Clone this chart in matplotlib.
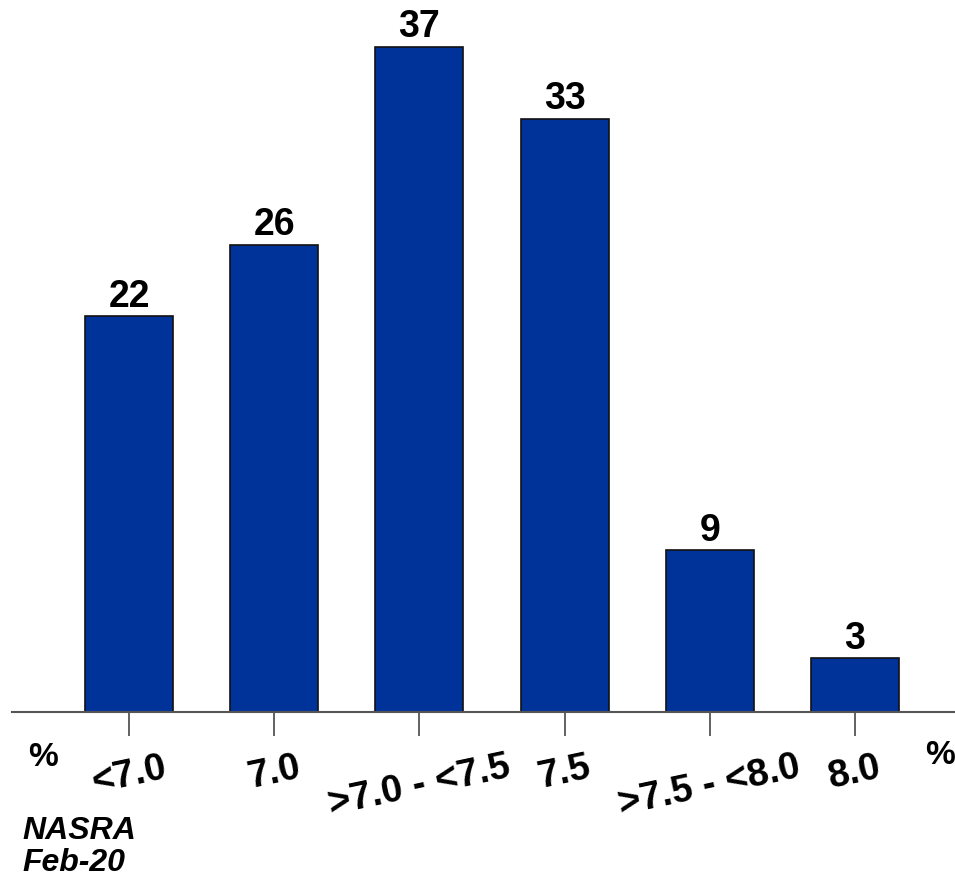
import matplotlib.pyplot as plt

# --- data ---
categories = ["<7.0", "7.0", ">7.0 - <7.5", "7.5", ">7.5 - <8.0", "8.0"]
values = [22, 26, 37, 33, 9, 3]

plt.rcParams['font.family'] = ['Liberation Sans', 'DejaVu Sans']

fig = plt.figure(figsize=(9.55, 8.83), dpi=100)
ax = fig.add_axes([12 / 955, 171 / 883, 943 / 955, 712 / 883])

x = range(len(categories))
bars = ax.bar(x, values, width=0.606, color='#003399', edgecolor='#111111', linewidth=1.2)
ax.bar_label(bars, labels=[str(v) for v in values], padding=1,
             fontsize=27, fontweight='bold')

ax.set_xlim(-0.806, 5.689)
ax.set_ylim(0, 39.6)
ax.set_xticks(list(x))
ax.set_xticklabels(categories, rotation=12, ha='center', fontsize=27.5, fontweight='bold')
ax.tick_params(axis='x', length=17, width=1.3, color='#555555', pad=10)
ax.set_yticks([])

for s in ['top', 'right', 'left']:
    ax.spines[s].set_visible(False)
ax.spines['bottom'].set_color('#555555')
ax.spines['bottom'].set_linewidth(1.5)

# unit markers and source note
fig.text(43 / 955, 1 - 757 / 883, "%", fontsize=24, fontweight='bold', ha='center', va='center')
fig.text(925 / 955, 1 - 755 / 883, "%", fontsize=24, fontweight='bold', ha='left', va='center')
fig.text(22 / 955, 1 - 816 / 883, "NASRA\nFeb-20", fontsize=23, fontweight='bold',
         style='italic', ha='left', va='top', linespacing=1.1)

fig.savefig("out.png", dpi=100)
